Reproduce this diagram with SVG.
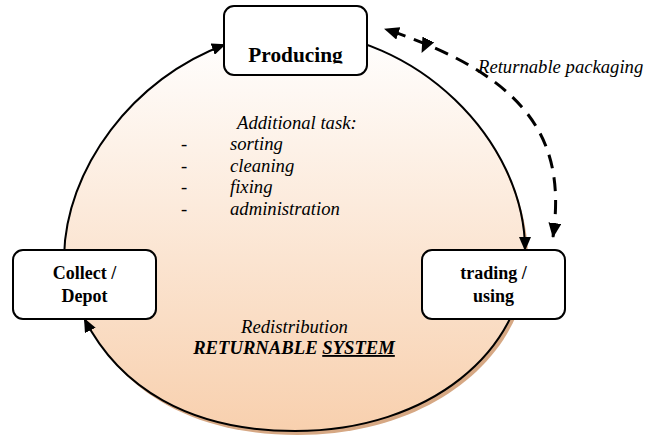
<svg xmlns="http://www.w3.org/2000/svg" width="645" height="436" viewBox="0 0 645 436" font-family="Liberation Serif, DejaVu Serif, serif">
  <style>
    .box { fill: #ffffff; stroke: #000000; stroke-width: 2; }
    .node-label { font-weight: bold; font-size: 18px; text-anchor: middle; fill: #000000; }
    .note { font-style: italic; font-size: 18.67px; fill: #000000; }
    .bullet { font-size: 18.67px; fill: #000000; }
    .cycle { fill: none; stroke: #000000; stroke-width: 2; }
    .return { fill: none; stroke: #000000; stroke-width: 3; stroke-dasharray: 14 9; }
  </style>
  <defs>
    <linearGradient id="cycleFill" gradientUnits="userSpaceOnUse" x1="0" y1="32" x2="0" y2="431">
      <stop offset="0" stop-color="#ffffff"/>
      <stop offset="1" stop-color="#f8d0ae"/>
    </linearGradient>
    <marker id="arrowSolid" markerUnits="userSpaceOnUse" viewBox="0 0 14 12" markerWidth="14" markerHeight="12" refX="13" refY="6" orient="auto">
      <path d="M0,0 L14,6 L0,12 z" fill="#000000"/>
    </marker>
    <marker id="arrowDash" markerUnits="userSpaceOnUse" viewBox="0 0 15 13" markerWidth="15" markerHeight="13" refX="14" refY="6.5" orient="auto-start-reverse">
      <path d="M0,0 L15,6.5 L0,13 z" fill="#000000"/>
    </marker>
    <clipPath id="producingClip">
      <rect x="224" y="6" width="143" height="57.5"/>
    </clipPath>
  </defs>

  <!-- cycle area: drop shadow and gradient body -->
  <g id="cycle-area">
    <path transform="translate(3,4)" d="M64,260 C64,145 175,32 295,32 C415,32 525,140 525,255 C525,350 430,431 295,431 C160,431 85,360 64,260 Z" fill="#d6a884"/>
    <path d="M64,260 C64,145 175,32 295,32 C415,32 525,140 525,255 C525,350 430,431 295,431 C160,431 85,360 64,260 Z" fill="url(#cycleFill)"/>
  </g>

  <!-- connectors -->
  <g id="connectors">
    <path class="cycle" d="M64,260 C64,168 135,77.3 224.9,44.7" marker-end="url(#arrowSolid)"/>
    <path class="cycle" d="M295,32 C415,32 525,140 525,250" marker-end="url(#arrowSolid)"/>
    <path class="cycle" d="M525,255 C525,350 430,431 295,431 C188.35,431 119.1,386.7 84.4,318.8" marker-end="url(#arrowSolid)"/>
    <path class="return" d="M553,237 C565,150 540,80 385,29" marker-start="url(#arrowDash)" marker-end="url(#arrowDash)"/>
    <path d="M429,38 L422,52" fill="none" stroke="none" marker-end="url(#arrowDash)"/>
  </g>

  <!-- nodes -->
  <g id="producing">
    <rect class="box" x="224" y="6" width="143" height="69" rx="10"/>
    <text class="node-label" x="295.5" y="62" font-family="Liberation Serif, serif" style="font-size:21.33px" clip-path="url(#producingClip)">Producing</text>
  </g>
  <g id="collect-depot">
    <rect class="box" x="13" y="250" width="143" height="69" rx="10"/>
    <text class="node-label" x="84.5" y="279" font-family="Liberation Serif, serif">Collect /</text>
    <text class="node-label" x="84.5" y="302" font-family="Liberation Serif, serif">Depot</text>
  </g>
  <g id="trading-using">
    <rect class="box" x="422" y="250" width="143" height="69" rx="10"/>
    <text class="node-label" x="493.5" y="279" font-family="Liberation Serif, serif">trading /</text>
    <text class="node-label" x="493.5" y="302" font-family="Liberation Serif, serif">using</text>
  </g>

  <!-- labels -->
  <g id="labels" font-family="Liberation Serif, serif">
    <text class="note" x="478" y="73">Returnable packaging</text>
    <text class="note" x="237" y="129">Additional task:</text>
    <text class="bullet" x="181" y="150">-</text>
    <text class="note" x="230" y="150">sorting</text>
    <text class="bullet" x="181" y="172">-</text>
    <text class="note" x="230" y="172">cleaning</text>
    <text class="bullet" x="181" y="193">-</text>
    <text class="note" x="230" y="193">fixing</text>
    <text class="bullet" x="181" y="215">-</text>
    <text class="note" x="230" y="215">administration</text>
    <text class="note" x="294.5" y="333" text-anchor="middle">Redistribution</text>
    <text class="note" x="294" y="354" text-anchor="middle" font-weight="bold">RETURNABLE <tspan text-decoration="underline">SYSTEM</tspan></text>
  </g>
</svg>
